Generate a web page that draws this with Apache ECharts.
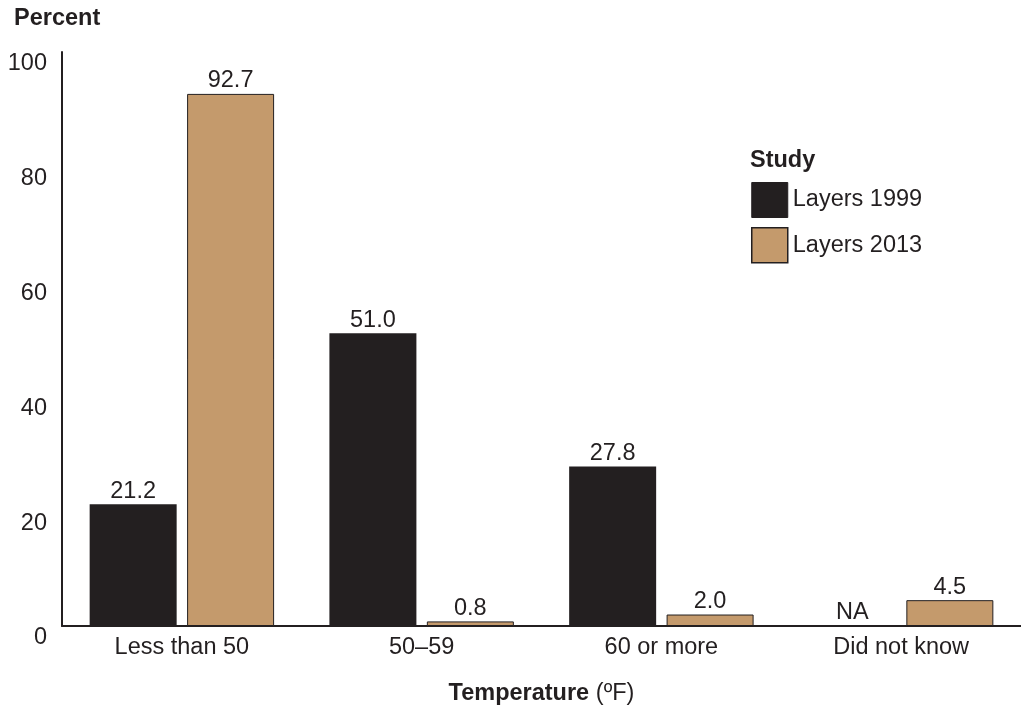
<!DOCTYPE html>
<html><head><meta charset="utf-8">
<script src="https://cdn.jsdelivr.net/npm/echarts@6/dist/echarts.min.js"></script>
<style>html,body{margin:0;padding:0;background:#fff}#c{width:1021px;height:719px}</style>
</head><body><div id="c"></div>
<script>
const categories = ['Less than 50', '50\u201359', '60 or more', 'Did not know'];
const layers1999 = [21.2, 51.0, 27.8, null];
const layers2013 = [92.7, 0.8, 2.0, 4.5];
const yTicks = [0, 20, 40, 60, 80, 100];
const seriesNames = ['Layers 1999', 'Layers 2013'];

const FONT = 'Liberation Sans, Arial, Helvetica, sans-serif';
const INK = '#231f20';
const TAN = '#c49a6c';
const FS = 23.5;

const chart = echarts.init(document.getElementById('c'));
const fmt = p => (p.data && p.data.na) ? 'NA' : Number(p.value).toFixed(1);
const labelCfg = {show: true, position: 'top', distance: 1, color: INK, fontSize: FS, fontFamily: FONT, formatter: fmt};

chart.setOption({
  animation: false,
  textStyle: {fontFamily: FONT},
  grid: {left: 62, right: 0, top: 52, bottom: 93, containLabel: false},
  legend: {
    orient: 'vertical', left: 751, top: 182, icon: 'rect', padding: 0,
    itemWidth: 36, itemHeight: 35, itemGap: 9,
    textStyle: {color: INK, fontSize: FS, fontFamily: FONT},
    data: [
      {name: seriesNames[0], itemStyle: {color: INK, borderColor: INK, borderWidth: 1}},
      {name: seriesNames[1], itemStyle: {color: TAN, borderColor: INK, borderWidth: 1.5}}
    ]
  },
  xAxis: {
    type: 'category', data: categories,
    axisLine: {lineStyle: {color: INK, width: 2}},
    axisTick: {show: false},
    axisLabel: {color: INK, fontSize: FS, fontFamily: FONT, margin: 10},
    name: '{b|Temperature}  {n|(\u00baF)}',
    nameLocation: 'middle', nameGap: 56,
    nameTextStyle: {rich: {
      b: {fontWeight: 'bold', fontSize: FS, color: INK, fontFamily: FONT},
      n: {fontSize: FS, color: INK, fontFamily: FONT}
    }}
  },
  yAxis: {
    type: 'value', min: 0, max: 100, interval: 20,
    axisLine: {show: true, lineStyle: {color: INK, width: 2}},
    axisTick: {show: false},
    splitLine: {show: false},
    axisLabel: {color: INK, fontSize: FS, fontFamily: FONT, margin: 15, verticalAlign: 'top',
      formatter: v => yTicks.includes(v) ? String(v) : ''}
  },
  graphic: [
    {type: 'text', left: 14, top: 7, style: {text: 'Percent', font: 'bold 23.5px ' + FONT, fill: INK}},
    {type: 'text', left: 750, top: 149, style: {text: 'Study', font: 'bold 23.5px ' + FONT, fill: INK}}
  ],
  series: [
    {
      name: seriesNames[0], type: 'bar', barWidth: 87, barGap: '12%',
      itemStyle: {color: INK},
      label: labelCfg,
      data: layers1999.map(v => v === null ? {value: 0, na: true} : v)
    },
    {
      name: seriesNames[1], type: 'bar', barWidth: 87,
      itemStyle: {color: TAN, borderColor: INK, borderWidth: 1},
      label: labelCfg,
      data: layers2013
    }
  ]
});
</script></body></html>
